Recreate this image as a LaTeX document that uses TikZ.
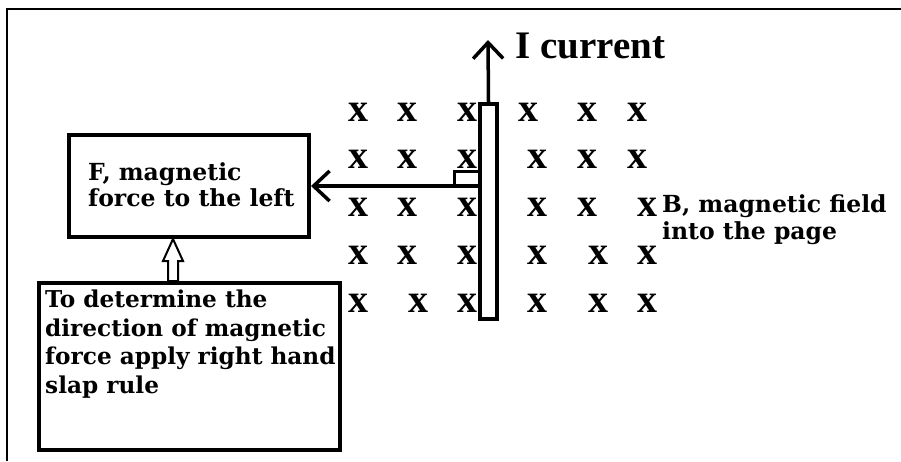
\documentclass[tikz,border=0pt]{standalone}
\usepackage{fontspec}
\setmainfont{Liberation Serif}
\newfontfamily\labfont{DejaVu Serif}
\usetikzlibrary{arrows.meta,calc}
\begin{document}
\begin{tikzpicture}[x=1pt,y=-1pt,
  labtext/.style={font=\labfont\bfseries\fontsize{23.5}{26}\selectfont, inner sep=0pt, align=left},
  xmark/.style={font=\bfseries\fontsize{40}{40}\selectfont, inner sep=0pt},
  boxline/.style={draw, line width=4pt, fill=white, inner sep=0pt},
  conn/.style={line width=3.5pt},
  barb/.style={-{Straight Barb[length=16pt,width=30pt,line width=3.5pt]}}
]
\useasboundingbox (0,0) rectangle (901,461);
\fill[white] (0,0) rectangle (901,461);
% outer frame (only top and left visible)
\draw[line width=1.5pt] (7,461) -- (7,9) -- (901,9);

% field marks
\foreach \r/\yy/\xa/\xb/\xc/\xd/\xe/\xf in {
  1/112/358/407/467/528/587/637,
  2/159/358/407/467/537/587/637,
  3/207/358/407/467/537/587/647,
  4/255/358/407/467/537/598/647,
  5/303/358/418/467/537/598/647}{
  \node[xmark] (x\r a) at (\xa,\yy) {x};
  \node[xmark] (x\r b) at (\xb,\yy) {x};
  \node[xmark] (x\r c) at (\xc,\yy) {x};
  \node[xmark] (x\r d) at (\xd,\yy) {x};
  \node[xmark] (x\r e) at (\xe,\yy) {x};
  \node[xmark] (x\r f) at (\xf,\yy) {x};
}

% wire
\node[boxline, minimum width=17pt, minimum height=215pt] (wire) at (488.5,211.5) {};
\coordinate (itop) at (488,40);
\draw[conn, barb] (wire.north) -- (itop);
\node[font=\bfseries\fontsize{39}{39}\selectfont, inner sep=0pt, anchor=base west] (ilabel) at (515,58) {I current};

% force box
\node[boxline, minimum width=240pt, minimum height=102pt] (fbox) at (189,186) {};
\node[labtext, anchor=north west] (ftext) at (88,162) {F, magnetic\\force to the left};

% force arrow
\coordinate (fstart) at (wire.west |- 0,186);
\draw[conn, barb] (fstart) -- (fbox.east);
\draw[line width=3pt] ($(fstart)+(-24,0)$) -- ++(0,-15) -- ($(fstart)+(0,-15)$);

% lower box
\node[boxline, minimum width=301pt, minimum height=167pt] (lbox) at (189.5,366.5) {};
\node[labtext, anchor=north west, font=\labfont\bfseries\fontsize{23.2}{28.4}\selectfont] (ltext) at (45,290) {To determine the\\direction of magnetic\\force apply right hand\\slap rule};

% hollow arrow from lower box to force box
\coordinate (ha) at ($(fbox.south)+(-16,0)$);
\coordinate (hb) at (ha |- lbox.north);
\draw[line width=2pt, fill=white] (ha) -- ($(ha)+(10,22)$) -- ($(ha)+(5,22)$) -- ($(hb)+(5,0)$) -- ($(hb)+(-5,0)$) -- ($(ha)+(-5,22)$) -- ($(ha)+(-10,22)$) -- cycle;

% field label
\node[labtext, anchor=north west] (blabel) at (662,194) {B, magnetic field};
\node[labtext, anchor=north west] (blabel2) at (662,221) {into the page};
\end{tikzpicture}
\end{document}
